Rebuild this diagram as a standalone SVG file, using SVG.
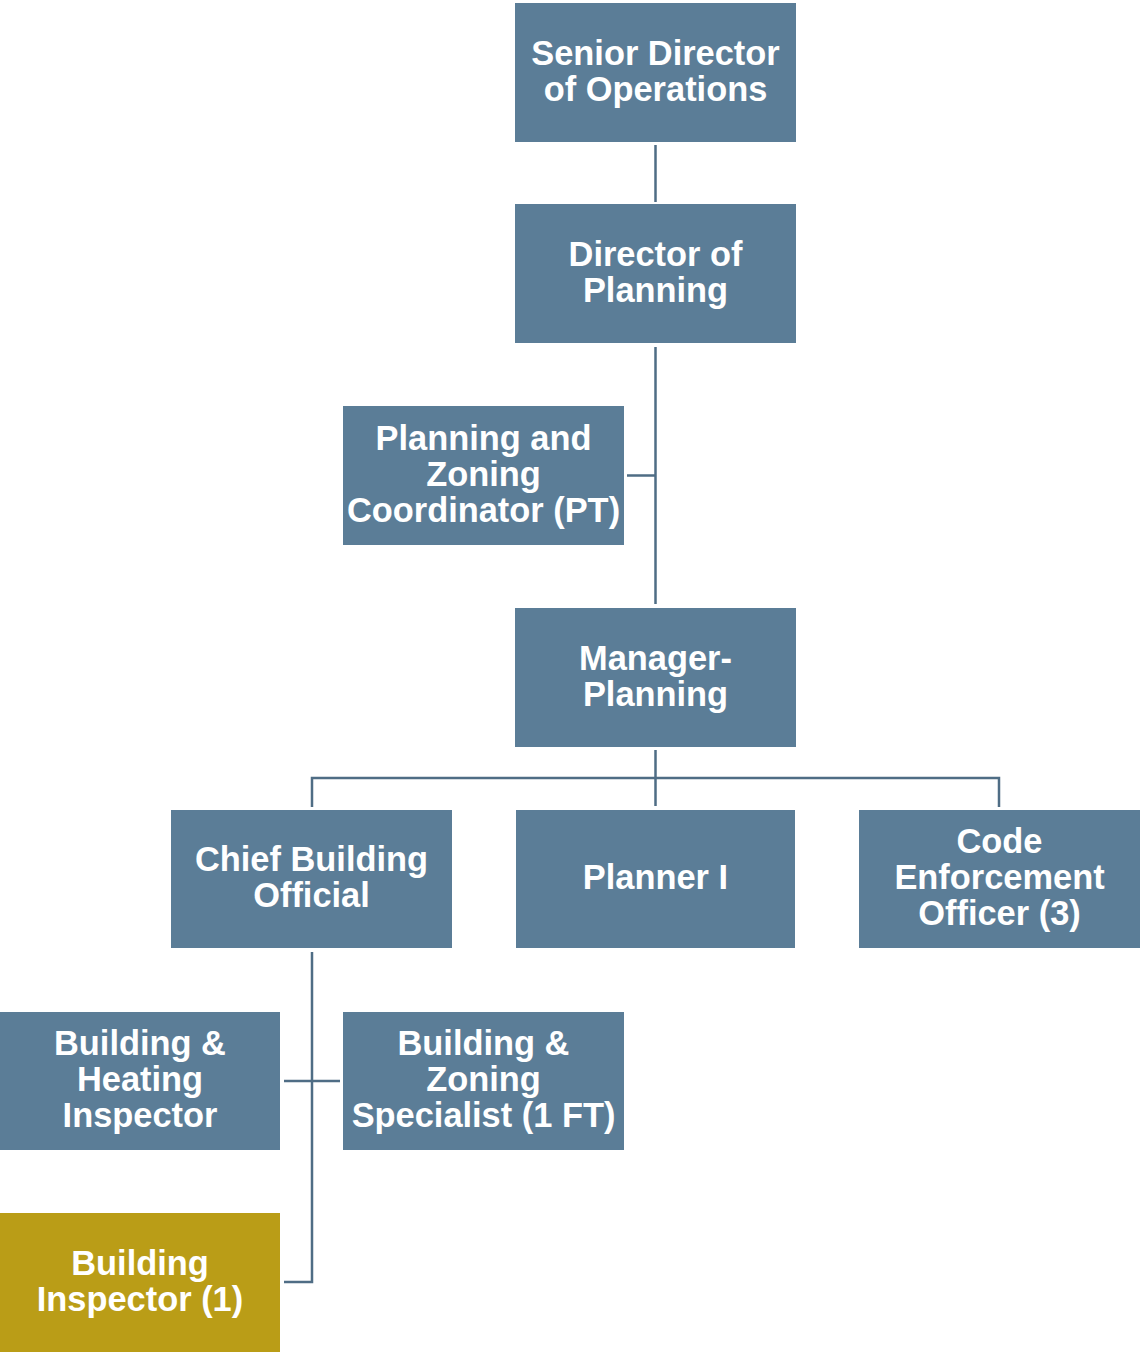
<svg xmlns="http://www.w3.org/2000/svg" width="1142" height="1353" viewBox="0 0 1142 1353">
<style>
.box{fill:#5B7D97}
.gold{fill:#BA9D17}
.t{font-family:"Liberation Sans",Arial,sans-serif;font-weight:bold;font-size:34.4px;fill:#FFFFFF;text-anchor:middle}
.c{stroke:#4F6D85;stroke-width:2.5;fill:none}
</style>
<rect width="1142" height="1353" fill="#FFFFFF"/>
<g id="connectors">
<path class="c" d="M655.5 145V202"/>
<path class="c" d="M655.5 347V604M627 475.5H655.5"/>
<path class="c" d="M655.5 750V806M312 807V778H999V807"/>
<path class="c" d="M312 952V1282H284M284 1081H340"/>
</g>
<g id="senior-director">
<rect class="box" x="515" y="3" width="281" height="139"/>
<text class="t" x="655.5" y="65">Senior Director</text>
<text class="t" x="655.5" y="101">of Operations</text>
</g>
<g id="director-planning">
<rect class="box" x="515" y="204" width="281" height="139"/>
<text class="t" x="655.5" y="266">Director of</text>
<text class="t" x="655.5" y="302">Planning</text>
</g>
<g id="pz-coordinator">
<rect class="box" x="343" y="406" width="281" height="139"/>
<text class="t" x="483.5" y="450">Planning and</text>
<text class="t" x="483.5" y="486">Zoning</text>
<text class="t" x="483.5" y="522">Coordinator (PT)</text>
</g>
<g id="manager-planning">
<rect class="box" x="515" y="608" width="281" height="139"/>
<text class="t" x="655.5" y="670">Manager-</text>
<text class="t" x="655.5" y="706">Planning</text>
</g>
<g id="chief-building-official">
<rect class="box" x="171" y="810" width="281" height="138"/>
<text class="t" x="311.5" y="871">Chief Building</text>
<text class="t" x="311.5" y="907">Official</text>
</g>
<g id="planner-1">
<rect class="box" x="516" y="810" width="279" height="138"/>
<text class="t" x="655.5" y="889">Planner I</text>
</g>
<g id="code-enforcement">
<rect class="box" x="859" y="810" width="281" height="138"/>
<text class="t" x="999.5" y="853">Code</text>
<text class="t" x="999.5" y="889">Enforcement</text>
<text class="t" x="999.5" y="925">Officer (3)</text>
</g>
<g id="building-heating-inspector">
<rect class="box" x="0" y="1012" width="280" height="138"/>
<text class="t" x="140" y="1055">Building &amp;</text>
<text class="t" x="140" y="1091">Heating</text>
<text class="t" x="140" y="1127">Inspector</text>
</g>
<g id="building-zoning-specialist">
<rect class="box" x="343" y="1012" width="281" height="138"/>
<text class="t" x="483.5" y="1055">Building &amp;</text>
<text class="t" x="483.5" y="1091">Zoning</text>
<text class="t" x="483.5" y="1127">Specialist (1 FT)</text>
</g>
<g id="building-inspector">
<rect class="gold" x="0" y="1213" width="280" height="139"/>
<text class="t" x="140" y="1275">Building</text>
<text class="t" x="140" y="1311">Inspector (1)</text>
</g>
</svg>
